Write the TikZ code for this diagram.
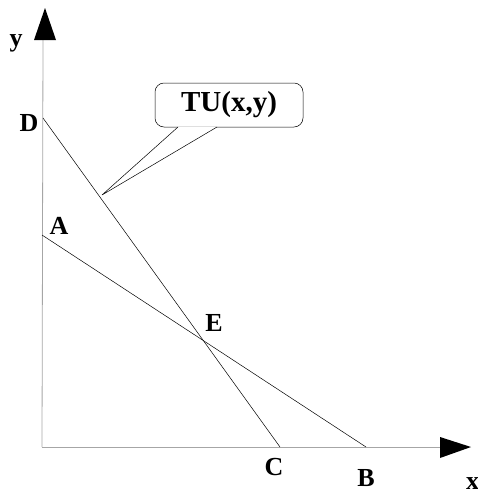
\documentclass[tikz,border=0pt]{standalone}
\usepackage{fontspec}
\setmainfont{Liberation Serif}
\begin{document}
\begin{tikzpicture}[x=1pt,y=-1pt,
  lab/.style={font=\fontsize{26}{26}\selectfont\bfseries, inner sep=0pt},
  axisline/.style={draw=black!35, line width=0.8pt},
  thin/.style={draw=black, line width=0.5pt}]
\useasboundingbox (0,0) rectangle (477,490);
% axes
\coordinate (O) at (42,447);
\coordinate (Ytip) at (45,8);
\coordinate (Xtip) at (471,447);
\draw[axisline] (O) -- (43,40);
\draw[axisline] (O) -- (440,447);
\fill (45,8) -- (56,40) -- (34,40) -- cycle;
\fill (471,447) -- (440,437) -- (440,458) -- cycle;
% points
\coordinate (D) at (43,118);
\coordinate (C) at (280,447);
\coordinate (A) at (42,235);
\coordinate (B) at (366,447);
\draw[thin] (D) -- (C);
\draw[thin] (A) -- (B);
% labels
\node[lab] (ly) at (16,43) {y};
\node[lab] (lD) at (29,123) {D};
\node[lab] (lA) at (59,226) {A};
\node[lab] (lE) at (214,323) {E};
\node[lab] (lC) at (274,467) {C};
\node[lab] (lB) at (366,478) {B};
\node[lab, anchor=west] (lx) at (466,484) {x};
% callout
\node[draw, thin, rounded corners=9pt, minimum width=148pt, minimum height=44pt,
  font=\fontsize{29}{29}\selectfont\bfseries, inner sep=0pt] (TU) at (229,105) {TU(x,y)};
\coordinate (tip) at (102,195);
\coordinate (p1) at (178,127);
\coordinate (p2) at (217,127);
\fill[white] (p1) -- (tip) -- (p2) -- cycle;
\draw[thin] (p1) -- (tip) -- (p2);
\end{tikzpicture}
\end{document}
